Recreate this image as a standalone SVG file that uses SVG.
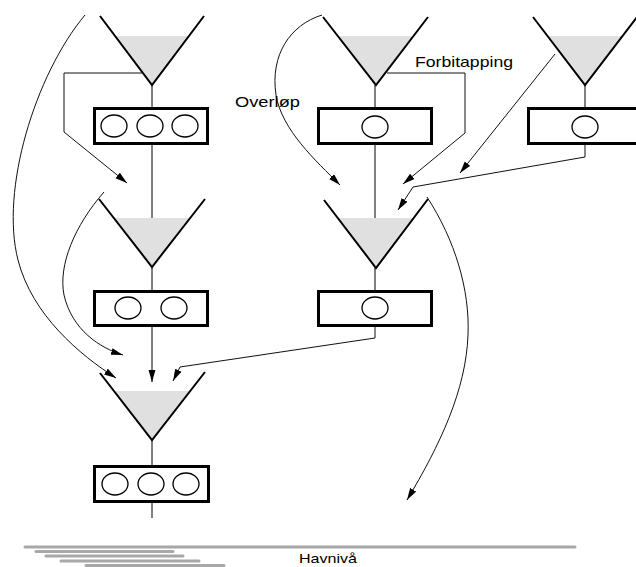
<svg xmlns="http://www.w3.org/2000/svg" width="636" height="567" viewBox="0 0 636 567">
  <style>
    .cone { fill: none; stroke: #000; stroke-width: 2; stroke-linejoin: miter; }
    .water { fill: #e0e0e0; stroke: none; }
    .plant { fill: #fff; stroke: #000; stroke-width: 3; }
    .turbine { fill: none; stroke: #000; stroke-width: 1.3; }
    .pipe { fill: none; stroke: #000; stroke-width: 1; }
    .flow { fill: none; stroke: #111; stroke-width: 1; }
    .sea { stroke: #a8a8a8; stroke-width: 3; stroke-linecap: round; }
    .label { font-family: "Liberation Sans", Arial, sans-serif; fill: #000; }
  </style>
  <defs>
    <marker id="arrow" markerUnits="userSpaceOnUse" markerWidth="13" markerHeight="8" refX="12" refY="3.5" orient="auto">
      <path d="M0,0 L12,3.5 L0,7 Z" fill="#000"/>
    </marker>
  </defs>

  <!-- flow connectors -->
  <g id="connectors">
    <!-- centre lines through each chain -->
    <path class="pipe" d="M152,85 V107 M152,145 V267 M152,267 V290"/>
    <path class="pipe" d="M152,327 V382" marker-end="url(#arrow)"/>
    <path class="pipe" d="M152,440 V465 M152,503 V518"/>
    <path class="pipe" d="M375,85 V107 M375,145 V268 M375,268 V290"/>
    <path class="pipe" d="M585,85 V107"/>

    <!-- bypass from upper left reservoir -->
    <path class="flow" d="M143,73 H64 V132 L127,183" marker-end="url(#arrow)"/>
    <!-- overflow from upper left reservoir -->
    <path class="flow" d="M85,15 C35,75 0,190 18,260 C32,315 80,355 116,378" marker-end="url(#arrow)"/>
    <!-- overflow from middle left reservoir -->
    <path class="flow" d="M104,192 C75,225 58,265 64,295 C72,330 100,348 123,355" marker-end="url(#arrow)"/>
    <!-- outlet of middle right plant -->
    <path class="flow" d="M375,327 V338 L180,367 L173,381" marker-end="url(#arrow)"/>
    <!-- overflow from upper middle reservoir -->
    <path class="flow" d="M322,15 C290,25 270,55 276,95 C282,130 315,160 340,185" marker-end="url(#arrow)"/>
    <!-- Forbitapping -->
    <path class="flow" d="M387,73 H465 V133 L403,184" marker-end="url(#arrow)"/>
    <!-- from upper right reservoir -->
    <path class="flow" d="M555,54 L460,173" marker-end="url(#arrow)"/>
    <!-- outlet of upper right plant -->
    <path class="flow" d="M585,145 V157 L413,187 L398,210" marker-end="url(#arrow)"/>
    <!-- overflow from middle right reservoir -->
    <path class="flow" d="M427,197 C455,240 470,290 468,335 C466,390 440,445 407,500" marker-end="url(#arrow)"/>
  </g>

  <!-- reservoirs -->
  <g id="reservoir-a">
    <polygon class="water" points="115,36 189,36 152,85"/>
    <polyline class="cone" points="100,16 152,85 204,16"/>
  </g>
  <g id="reservoir-b">
    <polygon class="water" points="114,218 190,218 152,267"/>
    <polyline class="cone" points="99,199 152,267 205,199"/>
  </g>
  <g id="reservoir-c">
    <polygon class="water" points="114,391 191,391 152,440"/>
    <polyline class="cone" points="100,373 152,440 205,372"/>
  </g>
  <g id="reservoir-d">
    <polygon class="water" points="338,36 413,36 376,85"/>
    <polyline class="cone" points="323,17 376,85 428,17"/>
  </g>
  <g id="reservoir-e">
    <polygon class="water" points="548,36 623,36 585,85"/>
    <polyline class="cone" points="533,17 585,85 637,17"/>
  </g>
  <g id="reservoir-f">
    <polygon class="water" points="338,218 414,218 376,268"/>
    <polyline class="cone" points="324,200 376,268 428,199"/>
  </g>

  <!-- power plants -->
  <g id="plant-a">
    <rect class="plant" x="94.5" y="108.5" width="113" height="35"/>
    <ellipse class="turbine" cx="114" cy="126" rx="13" ry="11"/>
    <ellipse class="turbine" cx="150" cy="126" rx="13" ry="11"/>
    <ellipse class="turbine" cx="185" cy="126" rx="13" ry="11"/>
  </g>
  <g id="plant-b">
    <rect class="plant" x="94.5" y="291.5" width="113" height="34"/>
    <ellipse class="turbine" cx="128" cy="308" rx="13" ry="11"/>
    <ellipse class="turbine" cx="174" cy="308" rx="13" ry="11"/>
  </g>
  <g id="plant-c">
    <rect class="plant" x="94.5" y="466.5" width="114" height="35"/>
    <ellipse class="turbine" cx="115" cy="484" rx="13" ry="11"/>
    <ellipse class="turbine" cx="151" cy="484" rx="13" ry="11"/>
    <ellipse class="turbine" cx="186" cy="484" rx="13" ry="11"/>
  </g>
  <g id="plant-d">
    <rect class="plant" x="318.5" y="108.5" width="113" height="35"/>
    <ellipse class="turbine" cx="375" cy="127" rx="13" ry="11"/>
  </g>
  <g id="plant-e">
    <rect class="plant" x="528.5" y="108.5" width="113" height="35"/>
    <ellipse class="turbine" cx="585" cy="127" rx="13" ry="11"/>
  </g>
  <g id="plant-f">
    <rect class="plant" x="318.5" y="291.5" width="113" height="34"/>
    <ellipse class="turbine" cx="375" cy="308" rx="13" ry="11"/>
  </g>

  <!-- labels -->
  <g id="labels">
    <text class="label" x="415" y="67" font-size="15" textLength="98" lengthAdjust="spacingAndGlyphs">Forbitapping</text>
    <text class="label" x="235" y="107" font-size="14" textLength="65" lengthAdjust="spacingAndGlyphs">Overløp</text>
  </g>

  <!-- sea level -->
  <g id="sea-level">
    <line class="sea" x1="25" y1="547" x2="575" y2="547"/>
    <line class="sea" x1="36" y1="551.5" x2="173" y2="551.5"/>
    <line class="sea" x1="46" y1="556" x2="183" y2="556"/>
    <line class="sea" x1="61" y1="561" x2="199" y2="561"/>
    <line class="sea" x1="86" y1="565.5" x2="224" y2="565.5"/>
    <text class="label" x="299" y="563" font-size="13" textLength="58" lengthAdjust="spacingAndGlyphs">Havnivå</text>
  </g>
</svg>
